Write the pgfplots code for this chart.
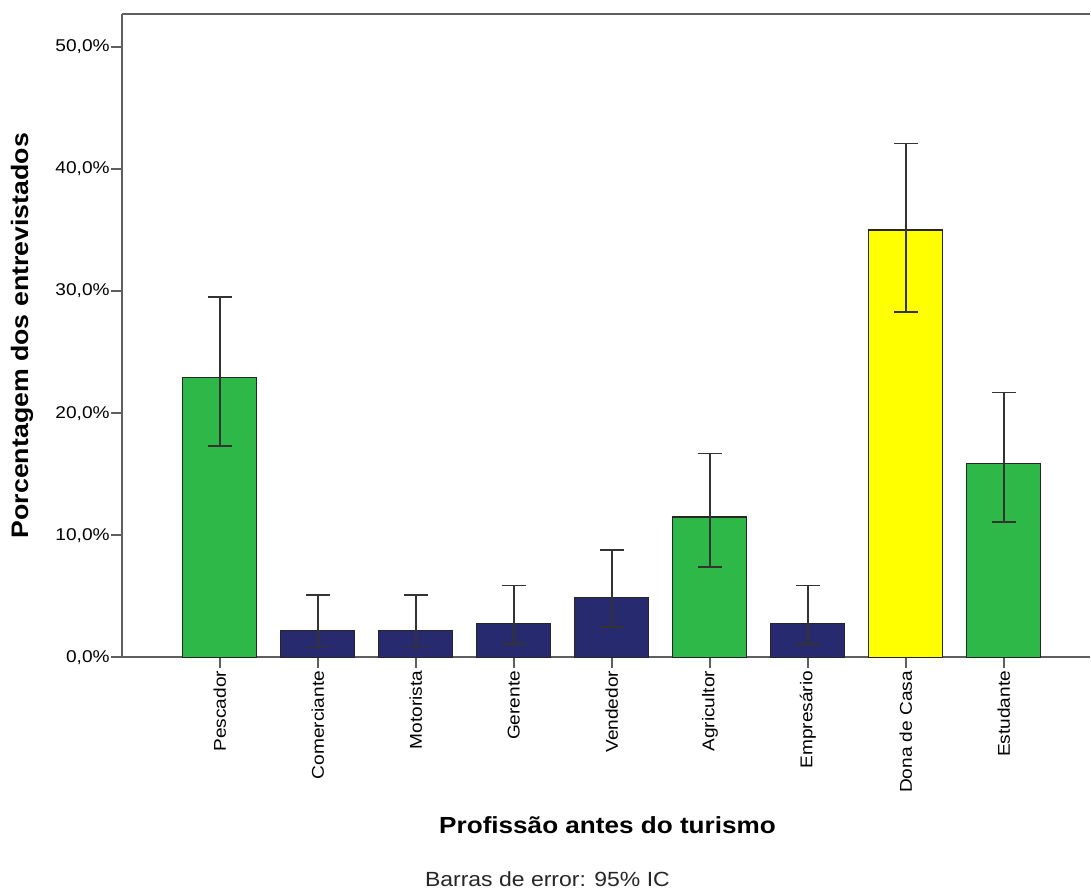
\documentclass[border=0pt]{standalone}
\usepackage{pgfplots}
\pgfplotsset{compat=1.18}
\usepackage{fontspec}
\setmainfont{Liberation Sans}[FakeStretch=1.12]
\definecolor{bargreen}{RGB}{46,184,72}
\definecolor{barnavy}{RGB}{40,42,112}
\definecolor{baryellow}{RGB}{255,255,0}
\definecolor{axisgray}{RGB}{95,95,95}
\begin{document}
\begin{tikzpicture}
\path (-91.5pt,-174.75pt) rectangle (726.75pt,493.5pt);
\begin{axis}[
  at={(0,0)}, anchor=south west,
  scale only axis, width=726.75pt, height=483pt,
  xmin=-1, xmax=8.878, ymin=0, ymax=52.7,
  axis x line*=bottom, axis y line*=left,
  axis line style={axisgray, line width=1.7pt},
  tick style={axisgray, line width=1.3pt},
  tick align=outside, major tick length=8pt,
  xtick={0,...,8},
  xticklabels={Pescador, Comerciante, Motorista, Gerente, Vendedor, Agricultor, Empresário, Dona de Casa, Estudante},
  xticklabel style={rotate=90, anchor=east, font=\fontsize{12.8}{15}\selectfont, text=black, inner sep=2pt},
  ytick={0,10,20,30,40,50},
  yticklabels={{0,0\%},{10,0\%},{20,0\%},{30,0\%},{40,0\%},{50,0\%}},
  yticklabel style={font=\fontsize{12.8}{15}\selectfont, text=black, inner sep=1pt},
  xlabel={\bfseries Profissão antes do turismo},
  xlabel style={at={(axis description cs:0.5017,-0.2609)}, anchor=center, font=\fontsize{17.5}{20}\selectfont},
  ylabel={\bfseries Porcentagem dos entrevistados},
  ylabel style={at={(axis description cs:-0.1032,0.5)}, anchor=center, font=\fontsize{17.9}{20}\selectfont},
  error bars/error bar style={black!80, line width=1.1pt},
  error bars/error mark options={rotate=90, black!80, line width=1.1pt, mark size=9pt},
]
\addplot[ybar, bar width=0.755, fill=bargreen, draw=black!85, line width=0.9pt,
  error bars/.cd, y dir=both, y explicit]
  coordinates {(0,22.9) += (0,6.6) -= (0,5.6)
               (5,11.5) += (0,5.2) -= (0,4.1)
               (8,15.9) += (0,5.8) -= (0,4.8)};
\addplot[ybar, bar width=0.755, fill=barnavy, draw=black!85, line width=0.9pt,
  error bars/.cd, y dir=both, y explicit]
  coordinates {(1,2.2) += (0,2.9) -= (0,1.4)
               (2,2.2) += (0,2.9) -= (0,1.4)
               (3,2.8) += (0,3.1) -= (0,1.7)
               (4,4.9) += (0,3.9) -= (0,2.4)
               (6,2.8) += (0,3.1) -= (0,1.7)};
\addplot[ybar, bar width=0.755, fill=baryellow, draw=black!85, line width=0.9pt,
  error bars/.cd, y dir=both, y explicit]
  coordinates {(7,35.0) += (0,7.1) -= (0,6.7)};
\draw[axisgray, line width=1.7pt] (axis description cs:0,1) -- (axis description cs:1,1);
\end{axis}
\node[font=\fontsize{15.4}{18}\selectfont, text=black!85] at (319.5pt,-166.5pt) {Barras de error: 95\% IC};
\end{tikzpicture}
\end{document}
